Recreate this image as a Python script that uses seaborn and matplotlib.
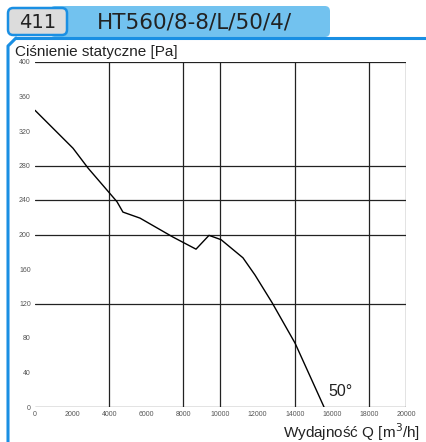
import matplotlib
matplotlib.use("Agg")
import matplotlib.pyplot as plt
from matplotlib.patches import FancyBboxPatch, Rectangle
from matplotlib.lines import Line2D
import seaborn as sns

# curve
flow = [0, 2050, 2860, 3940, 4420, 4740, 5660, 7440, 8680, 9380, 10030,
        11210, 11860, 12780, 14020, 15580]
pressure = [344, 300, 277, 250, 238, 226, 219, 197, 183, 199, 194,
            173, 153, 121, 74, 0]

x_ticks = list(range(0, 20001, 2000))
y_ticks = list(range(0, 401, 40))
x_grid = [4000, 8000, 10000, 14000, 18000, 20000]
y_grid = [0, 120, 200, 240, 280, 400]

model = "HT560/8-8/L/50/4/"
number = "411"
angle = "50°"

sns.set_style("white")
plt.rcParams["font.family"] = ["Liberation Sans", "DejaVu Sans"]

W, H = 427, 442
fig = plt.figure(figsize=(W / 100, H / 100), dpi=100)
blue = "#1a8fe3"

# header
fig.patches.append(FancyBboxPatch((50 / W, 1 - 37 / H), (330 - 50) / W, 31 / H,
                                  boxstyle="round,pad=0,rounding_size=0.012",
                                  transform=fig.transFigure, facecolor="#72c2ef",
                                  edgecolor="none", zorder=0))
fig.patches.append(FancyBboxPatch((8 / W, 1 - 35 / H), 59 / W, 27 / H,
                                  boxstyle="round,pad=0,rounding_size=0.012",
                                  transform=fig.transFigure, facecolor="#dcdcdc",
                                  edgecolor=blue, linewidth=1.8, zorder=1))
fig.text(38 / W, 1 - 22 / H, number, ha="center", va="center", fontsize=14,
         color="#222222", family="DejaVu Sans")
fig.text(97 / W, 1 - 22 / H, model, ha="left", va="center", fontsize=15.5,
         color="#222222", family="DejaVu Sans")

# panel border
fig.lines.append(Line2D([8 / W, 8 / W, 16 / W], [0, 1 - 46 / H, 1 - 38 / H],
                        transform=fig.transFigure, color=blue, linewidth=2.2))
fig.lines.append(Line2D([16 / W, 1.0], [1 - 38 / H, 1 - 38 / H],
                        transform=fig.transFigure, color=blue, linewidth=2.2))

fig.text(15 / W, 1 - 52 / H, "Ciśnienie statyczne [Pa]", ha="left", va="center",
         fontsize=11, color="#222222")
fig.text(420 / W, 1 - 432 / H, "Wydajność Q [m$^3$/h]", ha="right", va="center",
         fontsize=11, color="#222222")

ax = fig.add_axes([35 / W, 1 - 407 / H, 371 / W, 345 / H])
for v in y_grid:
    ax.axhline(v, color="#222222", linewidth=0.9, zorder=1)
for v in x_grid:
    ax.axvline(v, color="#222222", linewidth=0.9, zorder=1)

sns.lineplot(x=flow, y=pressure, color="black", linewidth=1.0, ax=ax, zorder=3)
ax.text(16450, 18, angle, fontsize=11.5, color="#222222", ha="center", va="center")

ax.set_xlim(0, 20000)
ax.set_ylim(0, 400)
ax.set_xticks(x_ticks)
ax.set_yticks(y_ticks)
ax.set_xticklabels([str(t) for t in x_ticks], fontsize=5, color="#555555")
ax.set_yticklabels([str(t) for t in y_ticks], fontsize=5, color="#555555")
ax.tick_params(length=0, pad=3)
for s in ax.spines.values():
    s.set_visible(False)

fig.savefig("out.png", dpi=100)
